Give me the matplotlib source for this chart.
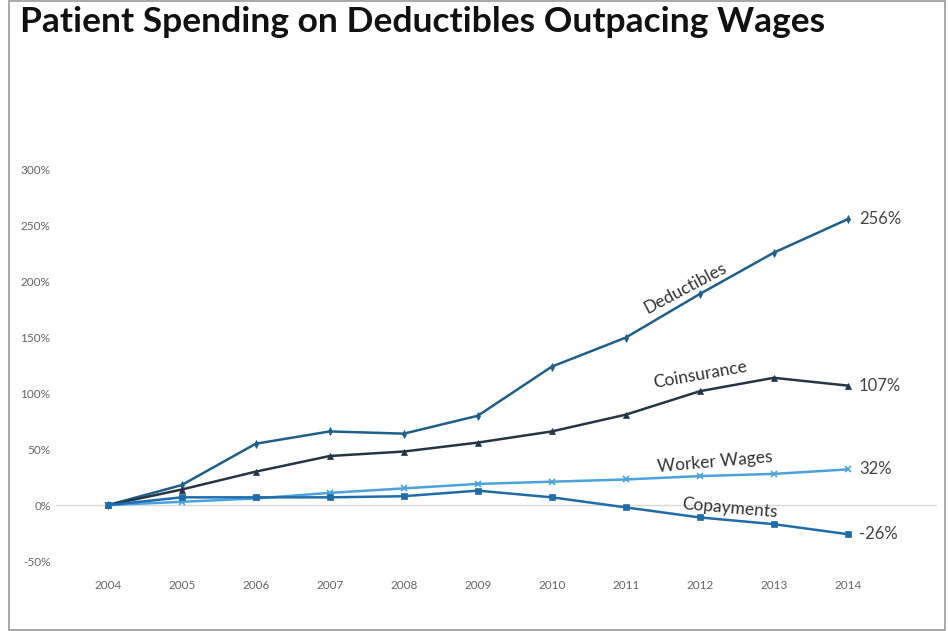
import matplotlib.pyplot as plt
from matplotlib.patches import Rectangle

years = [2004, 2005, 2006, 2007, 2008, 2009, 2010, 2011, 2012, 2013, 2014]
deductibles = [0, 18, 55, 66, 64, 80, 124, 150, 189, 226, 256]
coinsurance = [0, 14, 30, 44, 48, 56, 66, 81, 102, 114, 107]
worker_wages = [0, 3, 6, 11, 15, 19, 21, 23, 26, 28, 32]
copayments = [0, 7, 7, 7, 8, 13, 7, -2, -11, -17, -26]
y_ticks = [-50, 0, 50, 100, 150, 200, 250, 300]

plt.rcParams['font.family'] = ['Lato', 'DejaVu Sans']

fig = plt.figure(figsize=(9.48, 6.31), dpi=100)
fig.patches.append(Rectangle((0.009, 0.002), 0.988, 0.996, transform=fig.transFigure,
                             fill=False, edgecolor='#9a9a9a', linewidth=1.2))
fig.text(0.021, 0.99, "Patient Spending on Deductibles Outpacing Wages",
         fontsize=25.5, fontweight='bold', va='top', ha='left', color='#111111')

ax = fig.add_axes([0.059, 0.1109, 0.929, 0.6197])

series = [
    (deductibles, '#1f5f8b', 'd', 4, 'Deductibles'),
    (coinsurance, '#263545', '^', 5, 'Coinsurance'),
    (worker_wages, '#4aa3df', 'x', 5, 'Worker Wages'),
    (copayments, '#1f6cab', 's', 5, 'Copayments'),
]
for vals, col, mk, ms, name in series:
    ax.plot(years, vals, color=col, marker=mk, markersize=ms, linewidth=1.8,
            markeredgewidth=1.2 if mk == 'x' else 0.5)
    ax.text(years[-1] + 0.15, vals[-1], f"{vals[-1]}%", fontsize=12,
            color='#444444', va='center', ha='left')

ax.axhline(0, color='#d9d9d9', linewidth=1, zorder=0)

ax.text(2011.8, 194, "Deductibles", rotation=28, fontsize=12.5, color='#333333',
        ha='center', va='center')
ax.text(2012.0, 117, "Coinsurance", rotation=10, fontsize=12.5, color='#333333',
        ha='center', va='center')
ax.text(2012.2, 39, "Worker Wages", rotation=5, fontsize=12.5, color='#333333',
        ha='center', va='center')
ax.text(2012.4, -3, "Copayments", rotation=-5, fontsize=12.5, color='#333333',
        ha='center', va='center')

ax.set_xlim(2003.3, 2015.2)
ax.set_ylim(-50, 300)
ax.set_xticks(years)
ax.set_xticklabels([str(y) for y in years])
ax.set_yticks(y_ticks)
ax.set_yticklabels([f"{t}%" for t in y_ticks])
ax.tick_params(axis='both', length=0, labelsize=8.5, labelcolor='#666666')
ax.tick_params(axis='x', pad=14)
ax.tick_params(axis='y', pad=4)
for s in ax.spines.values():
    s.set_visible(False)

fig.savefig("out.png", dpi=100)
